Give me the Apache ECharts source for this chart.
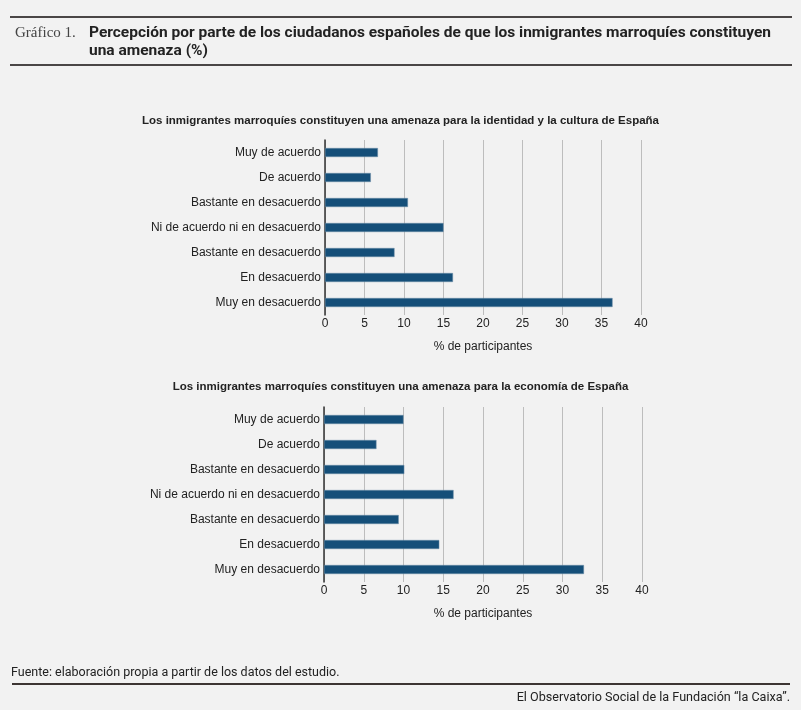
<!DOCTYPE html>
<html>
<head>
<meta charset="utf-8">
<script src="https://cdn.jsdelivr.net/npm/echarts@6/dist/echarts.min.js"></script>
<style>
html,body{margin:0;padding:0;background:#f2f2f2;}
#c{width:801px;height:710px;}
</style>
</head>
<body>
<div id="c"></div>
<script>
var categories = ['Muy de acuerdo','De acuerdo','Bastante en desacuerdo','Ni de acuerdo ni en desacuerdo','Bastante en desacuerdo','En desacuerdo','Muy en desacuerdo'];
var identidadValues = [6.7, 5.8, 10.5, 15.0, 8.8, 16.2, 36.4];
var economiaValues = [10.0, 6.6, 10.1, 16.3, 9.4, 14.5, 32.7];
var xTicks = [0,5,10,15,20,25,30,35,40];
var chartTitles = ['Los inmigrantes marroquíes constituyen una amenaza para la identidad y la cultura de España','Los inmigrantes marroquíes constituyen una amenaza para la economía de España'];
var axisName = '% de participantes';

var FONT = 'Liberation Sans, Arial, sans-serif';
var chart = echarts.init(document.getElementById('c'));

function xAxisCfg(gi){
  return {
    gridIndex: gi, type:'value', min:xTicks[0], max:xTicks[xTicks.length-1], interval:5,
    name: axisName, nameLocation:'middle', nameGap:26,
    nameTextStyle:{color:'#222', fontSize:12, fontFamily:FONT},
    axisLine:{show:false}, axisTick:{show:false},
    axisLabel:{color:'#222', fontSize:12, fontFamily:FONT, margin:3},
    splitLine:{show:true, lineStyle:{color:'#bdbdbd', width:1}}
  };
}
function yAxisCfg(gi){
  return {
    gridIndex: gi, type:'category', data:categories, inverse:true,
    axisLine:{show:true, lineStyle:{color:'#333', width:1.5}}, axisTick:{show:false},
    axisLabel:{color:'#222', fontSize:12, fontFamily:FONT, margin:4}
  };
}
function seriesCfg(gi, vals){
  return {
    type:'bar', xAxisIndex:gi, yAxisIndex:gi, data:vals, barWidth:9,
    itemStyle:{color:'#154f79', borderColor:'#6f8fa8', borderWidth:0.5},
    silent:true
  };
}

chart.setOption({
  backgroundColor:'#f2f2f2',
  animation:false,
  title:[
    {text:chartTitles[0], left:'center', top:110, textStyle:{fontSize:11.5, fontWeight:'bold', color:'#222', fontFamily:FONT}},
    {text:chartTitles[1], left:'center', top:376, textStyle:{fontSize:11.5, fontWeight:'bold', color:'#222', fontFamily:FONT}}
  ],
  grid:[
    {left:325, top:140, width:316, height:175},
    {left:324, top:407, width:318, height:175}
  ],
  xAxis:[xAxisCfg(0), xAxisCfg(1)],
  yAxis:[yAxisCfg(0), yAxisCfg(1)],
  series:[seriesCfg(0, identidadValues), seriesCfg(1, economiaValues)],
  graphic:[
    {type:'line', shape:{x1:10,y1:17,x2:792,y2:17}, style:{stroke:'#4a4646', lineWidth:2}},
    {type:'line', shape:{x1:10,y1:65,x2:792,y2:65}, style:{stroke:'#4a4646', lineWidth:2}},
    {type:'text', left:15, top:26, style:{text:'Gráfico 1.', fill:'#444', font:'15px "Liberation Serif", "DejaVu Serif", serif'}},
    {type:'text', left:89, top:24, style:{text:'Percepción por parte de los ciudadanos españoles de que los inmigrantes marroquíes constituyen\nuna amenaza (%)', fill:'#222', font:'bold 15.5px "Roboto", sans-serif', lineHeight:18}},
    {type:'text', left:11, top:666, style:{text:'Fuente: elaboración propia a partir de los datos del estudio.', fill:'#222', font:'12.5px "Roboto", sans-serif'}},
    {type:'line', shape:{x1:12,y1:684,x2:790,y2:684}, style:{stroke:'#3d3533', lineWidth:2}},
    {type:'text', right:11, top:691, style:{text:'El Observatorio Social de la Fundación “la Caixa”.', fill:'#222', font:'12.6px "Roboto", sans-serif'}}
  ]
});
</script>
</body>
</html>
